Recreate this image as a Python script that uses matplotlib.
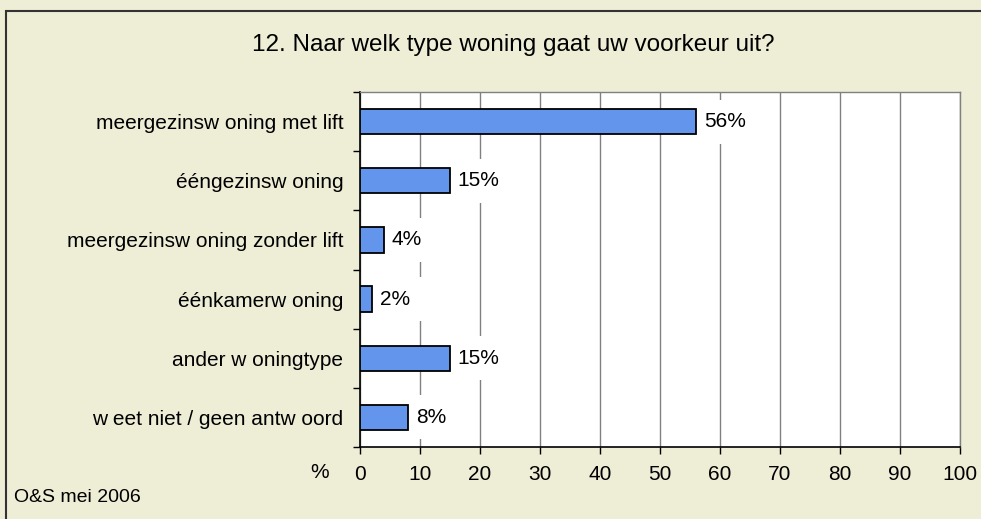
import matplotlib
matplotlib.use("Agg")
import matplotlib.pyplot as plt
from matplotlib.patches import Rectangle
import numpy as np

plt.rcParams['font.family'] = ['Liberation Sans', 'DejaVu Sans']

categories = [
    "meergezinsw oning met lift",
    "ééngezinsw oning",
    "meergezinsw oning zonder lift",
    "éénkamerw oning",
    "ander w oningtype",
    "w eet niet / geen antw oord",
]
values = [56, 15, 4, 2, 15, 8]
value_labels = ["56%", "15%", "4%", "2%", "15%", "8%"]
xticks = [0, 10, 20, 30, 40, 50, 60, 70, 80, 90, 100]

bg = '#EEEDD6'
W, H = 981, 519
fig = plt.figure(figsize=(W / 100, H / 100), dpi=100, facecolor=bg)

# outer frame
fig.patches.append(Rectangle((6 / W, -0.05), 1.05, 1.05 - 11 / H,
                             transform=fig.transFigure, fill=False,
                             edgecolor='#333333', linewidth=1.5))

left, right, top, bottom = 360, 960, 92, 447
ax = fig.add_axes([left / W, 1 - bottom / H, (right - left) / W, (bottom - top) / H])
ax.set_facecolor('white')

n = len(categories)
y = np.arange(n)
ax.barh(y, values, height=0.43, color='#6495ED', edgecolor='black', linewidth=1.3, zorder=3)

for yi, v, lab in zip(y, values, value_labels):
    ax.text(v + 1.3, yi, lab, va='center', ha='left', fontsize=15, zorder=2.5,
            bbox=dict(facecolor='white', edgecolor='none', boxstyle='square,pad=0.6'))

ax.set_xlim(0, 100)
ax.set_ylim(n - 0.5, -0.5)
ax.set_xticks(xticks)
ax.set_xticklabels([str(t) for t in xticks], fontsize=15)
ax.set_yticks(y)
ax.set_yticklabels(categories, fontsize=15)
ax.set_yticks(np.arange(n + 1) - 0.5, minor=True)
ax.tick_params(axis='y', which='major', length=0, pad=12)
ax.tick_params(axis='y', which='minor', length=5, width=1, color='black')
ax.tick_params(axis='x', which='major', length=5, width=1, pad=8, color='black')

ax.grid(axis='x', color='#808080', linewidth=1, zorder=1)
ax.set_axisbelow(True)
for s in ['top', 'right']:
    ax.spines[s].set_color('#808080')
    ax.spines[s].set_linewidth(1)
for s in ['left', 'bottom']:
    ax.spines[s].set_color('black')
    ax.spines[s].set_linewidth(1.2)

fig.text(513 / W, 1 - 45 / H, "12. Naar welk type woning gaat uw voorkeur uit?",
         ha='center', va='center', fontsize=17.5)
fig.text(320 / W, 1 - 473 / H, "%", ha='center', va='center', fontsize=15)
fig.text(14 / W, 1 - 497 / H, "O&S mei 2006", ha='left', va='center', fontsize=14)

fig.savefig('out.png', dpi=100, facecolor=bg)
